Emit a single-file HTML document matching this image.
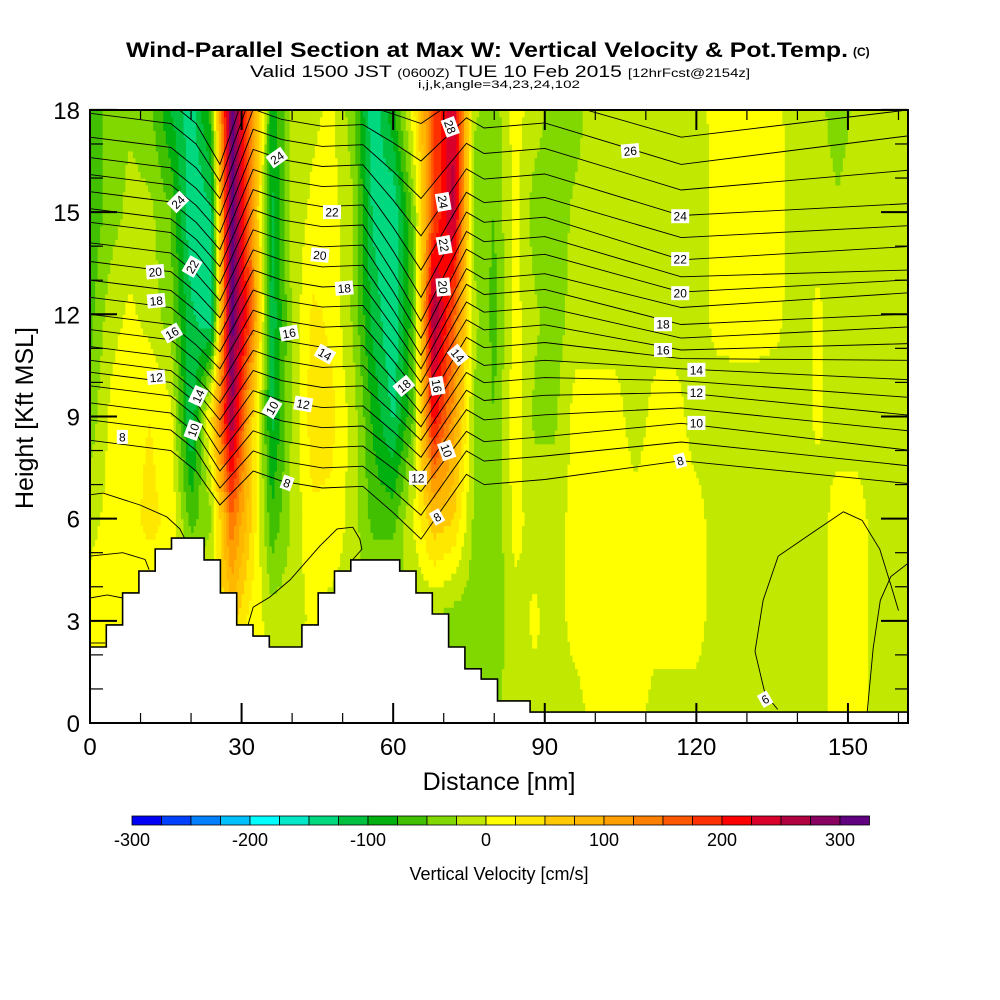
<!DOCTYPE html>
<html><head><meta charset="utf-8"><style>
html,body{margin:0;padding:0;background:#fff}
svg{display:block}
text{font-family:"Liberation Sans",sans-serif}
</style></head>
<body>
<svg id="chart" width="1000" height="1000" viewBox="0 0 1000 1000" xmlns="http://www.w3.org/2000/svg">
<rect x="0" y="0" width="1000" height="1000" fill="#fff"/>
<g>
<text x="126" y="57" font-size="21" font-weight="bold" textLength="722" lengthAdjust="spacingAndGlyphs">Wind-Parallel Section at Max W: Vertical Velocity &amp; Pot.Temp.</text>
<text x="853" y="56" font-size="12" font-weight="bold">(C)</text>
<text x="250" y="77" font-size="17" textLength="500" lengthAdjust="spacingAndGlyphs">Valid 1500 JST <tspan font-size="12">(0600Z)</tspan> TUE 10 Feb 2015 <tspan font-size="12">[12hrFcst@2154z]</tspan></text>
<text x="499" y="88" font-size="11" text-anchor="middle" textLength="162" lengthAdjust="spacingAndGlyphs">i,j,k,angle=34,23,24,102</text>
</g>
<defs><clipPath id="plotclip"><rect x="90" y="110" width="818" height="613"/></clipPath></defs>
<g id="field" clip-path="url(#plotclip)"></g>
<g id="contours" clip-path="url(#plotclip)"></g>
<g id="terrain" clip-path="url(#plotclip)"></g>
<g id="clabels"></g>
<g id="axes"></g>
<g id="cbar"></g>
</svg>
<script>
// ---- data ----
const xNodes=[0,4,8,12,16,20,24,28,32,36,40,44,48,52,56,60,64,68,72,76,80,84,88,92,96,100,104,108,112,116,120,124,128,132,136,140,144,148,152,156,160,164];
const rowHeights=[0,3,6,9,12,15,18];
const w0=[10,10,10,10,10,10,10,10,10,10,10,10,10,10,10,10,10,10,10,-40,-30,-12,-12,-12,-12,10,10,10,-12,-12,-12,-12,-12,-12,-12,-12,-12,10,10,-12,-12,-12];
const w3=[15,15,10,10,10,10,10,60,15,-12,-12,5,-12,-12,-12,-12,-30,-30,-40,-40,-40,-12,5,-12,10,10,10,10,10,10,10,-12,-12,-12,-12,-12,-12,10,10,-12,-12,-12];
const w6=[-10,10,20,30,20,-60,-30,150,50,-70,-20,20,20,-12,-60,-60,5,70,50,-30,-50,10,-12,-12,10,10,10,10,10,10,10,-12,-12,-12,-12,-12,-12,10,10,-12,-12,-12];
const w9=[-40,5,20,25,10,-130,40,280,60,-110,-20,40,30,-10,-80,-130,-50,220,110,-30,-50,15,-30,-30,10,10,10,-12,10,10,-12,-12,-12,-12,-12,-12,5,-12,-12,-12,-12,-12];
const w12=[-60,-10,5,-10,-40,-120,-150,320,160,-120,-20,30,20,-30,-110,-150,-60,280,160,-15,-60,10,-20,-40,-12,-12,-12,-12,-12,-12,-12,8,10,10,5,-12,5,-12,-12,-12,-12,-12];
const w15=[-70,-40,-15,-20,-50,-150,-130,320,120,-110,-15,5,10,-20,-130,-150,-40,170,260,-40,-50,10,-40,-40,-20,-12,-12,-12,-12,-12,-12,8,10,10,8,-12,-12,-20,-12,-12,-12,-12];
const w18=[-70,-40,-30,-45,-100,-140,-60,320,140,-90,-20,-5,5,-40,-150,-80,20,170,250,-20,-40,10,-10,-40,-35,-12,-12,-12,-12,-12,-10,8,10,10,5,-12,-15,-40,-15,-12,-12,-12];
const fieldRows=[w0,w3,w6,w9,w12,w15,w18];
const binColors=["#0000f5","#0040ff","#0080ff","#00c0ff","#00ffff","#00e8c8","#00d880","#00c040","#00b010","#40c000","#80d800","#c0e800","#ffff00","#ffe800","#ffc800","#ffb800","#ffa000","#ff8000","#ff5800","#ff3000","#ff0000","#d8002a","#b00040","#880060","#600080"];
const cbarTicks=[-300,-200,-100,0,100,200,300];
// terrain column heights (kft), column width 3.226 nm
const terrainH=[2.23,2.88,3.82,4.46,5.11,5.43,5.43,4.79,3.82,2.88,2.55,2.23,2.23,2.88,3.82,4.46,4.79,4.79,4.79,4.46,3.82,3.2,2.23,1.59,1.29,0.65,0.65,0.32,0.32,0.32,0.32,0.32,0.32,0.32,0.32,0.32,0.32,0.32,0.32,0.32,0.32,0.32,0.32,0.32,0.32,0.32,0.32,0.32,0.32,0.32,0.32];
// contour levels and heights (kft) at x-nodes
const cLevels=[8,9,10,11,12,13,14,15,16,17,18,19,20,21,22,23,24,25,26,27,28];
const cNodeX=[0,16,21,25.7,32.3,38,46,54,60,65.5,74.5,78,90,117,162];
const hLeft=[8.3,8.9,9.4,9.9,10.3,10.65,11.05,11.55,12.0,12.5,13.0,13.55,14.1,14.7,15.1,15.6,16.1,16.6,17.2,17.9,18.5];
const hTrough1=[6.4,6.9,7.4,7.9,8.4,8.9,9.4,9.9,10.4,10.9,11.4,11.9,12.4,12.9,13.4,13.9,14.4,14.9,15.4,15.9,16.4];
const hPeak1=[7.4,7.99,8.58,9.17,9.76,10.35,10.94,11.53,12.12,12.71,13.3,13.89,14.48,15.07,15.66,16.25,16.84,17.43,18.02,18.61,19.2];
const hTrough2=[5.4,6.1,6.8,7.3,7.8,8.3,8.7,9.1,9.6,10.0,10.4,10.8,11.3,11.8,12.5,13.3,14.3,15.4,16.5,17.6,18.7];
const hPeak2=[7.3,7.99,8.56,9.2,9.77,10.29,10.8,11.32,11.84,12.36,12.88,13.34,13.91,14.43,15.0,15.58,16.27,17.02,17.77,18.5,19.3];
const hMid=[7.7,8.25,8.8,9.25,9.7,10.05,10.4,10.7,10.95,11.3,11.7,12.2,12.65,13.1,13.6,14.25,14.9,15.65,16.4,17.2,18.0];
const hRight=[7.03,7.55,8.01,8.58,9.04,9.56,10.08,10.65,11.14,11.63,12.01,12.63,13.01,13.3,13.99,14.6,15.25,16.23,17.24,18.0,18.8];
const lowContours=[
 [[0,6.7],[2.6,6.75],[9.9,6.4],[15.2,6.05],[17.8,5.7],[18.8,5.4]],
 [[0,4.9],[6.5,5.0],[10.9,4.8],[11.7,4.5]],
 [[0,3.67],[3.4,3.76],[6.5,3.67]],
 [[0,2.35],[3.0,2.35]],
 [[31.3,2.9],[32.3,3.4],[35.6,3.7],[39.6,4.2],[45.5,5.2],[48.9,5.7],[52,5.75],[53.4,5.4],[53.8,5.1],[52,4.8]],
 [[136.1,0.4],[133.6,0.85],[131.6,2.1],[133.2,3.6],[136.2,4.9],[143.1,5.6],[149.1,6.2],[152.8,5.95],[156.3,5.1],[158.6,4.0],[160,3.3]],
 [[153.8,0.32],[155,2.2],[156.4,3.6],[158.5,4.3],[162,4.7]]
];
const cLabels=[["24",17.4,15.3,45],["22",20.2,13.4,60],["20",12.9,13.25,5],["18",13.1,12.4,5],["16",16.2,11.45,30],["12",13.1,10.15,5],["14",21.4,9.6,65],["10",20.4,8.6,70],["8",6.4,8.4,0],
 ["24",37,16.6,35],["22",47.9,15.0,0],["20",45.5,13.74,-5],["18",50.3,12.77,5],["16",39.4,11.45,10],["14",46.5,10.83,-30],["12",42.2,9.37,-10],["10",36,9.25,60],["8",39,7.05,-20],
 ["28",71.3,17.5,-70],["24",69.9,15.3,-80],["22",70.1,14.03,-80],["20",69.9,12.8,-85],["18",62.1,9.9,40],["16",68.7,9.9,-80],["14",72.8,10.8,-50],["12",64.9,7.2,0],["10",70.6,8.0,-70],["8",68.7,6.05,30],
 ["26",106.9,16.8,5],["24",116.8,14.88,0],["22",116.8,13.62,0],["20",116.8,12.62,0],["18",113.4,11.71,0],["16",113.4,10.95,0],["14",120,10.37,0],["12",120,9.7,0],["10",120,8.81,0],["8",116.8,7.7,15],["6",133.6,0.7,30]];

// ---- scales ----
const X0=90,Y0=723,PX=5.053,PY=34.06;
function xs(nm){return X0+nm*PX;}
function ys(k){return Y0-k*PY;}
const NS="http://www.w3.org/2000/svg";
function mk(tag,attrs,parent){const e=document.createElementNS(NS,tag);for(const k in attrs)e.setAttribute(k,attrs[k]);parent.appendChild(e);return e;}

function value(nm,k){
 let i=Math.min(Math.floor(nm/4),xNodes.length-2); let tx=(nm-xNodes[i])/(xNodes[i+1]-xNodes[i]);
 let j=Math.min(Math.floor(k/3),rowHeights.length-2); let ty=(k-rowHeights[j])/(rowHeights[j+1]-rowHeights[j]);
 const A=fieldRows[j],B=fieldRows[j+1];
 const a=A[i]*(1-tx)+A[i+1]*tx, b=B[i]*(1-tx)+B[i+1]*tx;
 return a*(1-ty)+b*ty;
}
function bin(v){let k=Math.floor((v+300)/25);return Math.max(0,Math.min(24,k));}

// ---- field ----
const field=document.getElementById('field');
const dk=0.2,dx=0.5;
for(let k=0;k<18-1e-9;k+=dk){
 let runStart=0,runBin=bin(value(dx/2,k+dk/2));
 for(let nm=dx;nm<=162+1e-9;nm+=dx){
  const b= nm<162-1e-9 ? bin(value(nm+dx/2,k+dk/2)) : -1;
  if(b!==runBin){
   const r=mk('rect',{x:xs(runStart).toFixed(2),y:ys(k+dk).toFixed(2),width:((nm-runStart)*PX+0.6).toFixed(2),height:(dk*PY+0.6).toFixed(2),fill:binColors[runBin]},field);
   
   
   runStart=nm;runBin=b;
  }
 }
}

// ---- contours ----
const cg=document.getElementById('contours');
for(let li=0;li<cLevels.length;li++){
 const hs=[hLeft[li],hLeft[li]-0.3,hLeft[li]-0.9,hTrough1[li],hPeak1[li],hPeak1[li]-0.3,hPeak1[li]-0.5,hPeak1[li]-0.45,(hPeak1[li]-0.45+hTrough2[li])/2,hTrough2[li],hPeak2[li],hPeak2[li]-0.3,hPeak2[li]-0.15,hMid[li],hRight[li]];
 const pts=cNodeX.map((x,i)=>xs(x).toFixed(1)+','+ys(hs[i]).toFixed(1)).join(' ');
 const p=mk('polyline',{points:pts,fill:'none',stroke:'#000','stroke-width':0.9},cg);
 
 
}
lowContours.forEach((c,i)=>{
 const p=mk('polyline',{points:c.map(q=>xs(q[0]).toFixed(1)+','+ys(q[1]).toFixed(1)).join(' '),fill:'none',stroke:'#000','stroke-width':0.9},cg);
 
 
});

// ---- terrain ----
const tg=document.getElementById('terrain');
const cw=3.226;
let d='M'+xs(0)+','+ys(0);
terrainH.forEach((h,i)=>{d+=' L'+xs(i*cw).toFixed(1)+','+ys(h).toFixed(1)+' L'+xs((i+1)*cw).toFixed(1)+','+ys(h).toFixed(1);});
d+=' L'+xs(terrainH.length*cw).toFixed(1)+','+ys(0)+' Z';
const tp=mk('path',{d:d,fill:'#fff',stroke:'#000','stroke-width':1.6},tg);



// ---- contour labels ----
const lg=document.getElementById('clabels');
cLabels.forEach(l=>{
 const g=mk('g',{transform:`translate(${xs(l[1]).toFixed(1)},${ys(l[2]).toFixed(1)}) rotate(${-l[3]})`},lg);
 
 
 const w=l[0].length*7+4;
 mk('rect',{x:-w/2,y:-7,width:w,height:14,fill:'#fff'},g);
 const t=mk('text',{x:0,y:4.5,'font-size':12,'text-anchor':'middle'},g);
 t.textContent=l[0];
});

// ---- axes ----
const ax=document.getElementById('axes');
const frame=mk('rect',{x:90,y:110,width:818,height:613,fill:'none',stroke:'#000','stroke-width':2},ax);


for(let v=0;v<=160;v+=10){
 const L=(v%30===0)?20:10;
 mk('line',{x1:xs(v),x2:xs(v),y1:723,y2:723-L,stroke:'#000','stroke-width':v%30===0?2:1.2},ax);
 mk('line',{x1:xs(v),x2:xs(v),y1:110,y2:110+L,stroke:'#000','stroke-width':v%30===0?2:1.2},ax);
 if(v%30===0){const t=mk('text',{x:xs(v),y:755,'font-size':24,'text-anchor':'middle'},ax);t.textContent=v;
  
  }
}
for(let v=0;v<=18;v+=1){
 const L=(v%3===0)?27:13;
 mk('line',{x1:90,x2:90+L,y1:ys(v),y2:ys(v),stroke:'#000','stroke-width':v%3===0?2:1.2},ax);
 mk('line',{x1:908,x2:908-L,y1:ys(v),y2:ys(v),stroke:'#000','stroke-width':v%3===0?2:1.2},ax);
 if(v%3===0){const t=mk('text',{x:80,y:ys(v)+9,'font-size':24,'text-anchor':'end'},ax);t.textContent=v;
  
  }
}
const xt=mk('text',{x:499,y:790,'font-size':25,'text-anchor':'middle'},ax);xt.textContent='Distance [nm]';


const yt=mk('text',{x:0,y:0,'font-size':25,'text-anchor':'middle',transform:'translate(33,418) rotate(-90)'},ax);yt.textContent='Height [Kft MSL]';



// ---- colorbar ----
const cb=document.getElementById('cbar');
const CB0=132,CBW=29.5;
binColors.forEach((c,i)=>{
 const r=mk('rect',{x:CB0+i*CBW,y:816,width:CBW,height:9,fill:c,stroke:'#000','stroke-width':0.8},cb);
 
 
});
cbarTicks.forEach(v=>{
 const t=mk('text',{x:CB0+(v+300)/25*CBW,y:846,'font-size':18,'text-anchor':'middle'},cb);t.textContent=v;
 
 
});
const ct=mk('text',{x:499,y:880,'font-size':18,'text-anchor':'middle'},cb);ct.textContent='Vertical Velocity [cm/s]';


</script>
</body></html>
